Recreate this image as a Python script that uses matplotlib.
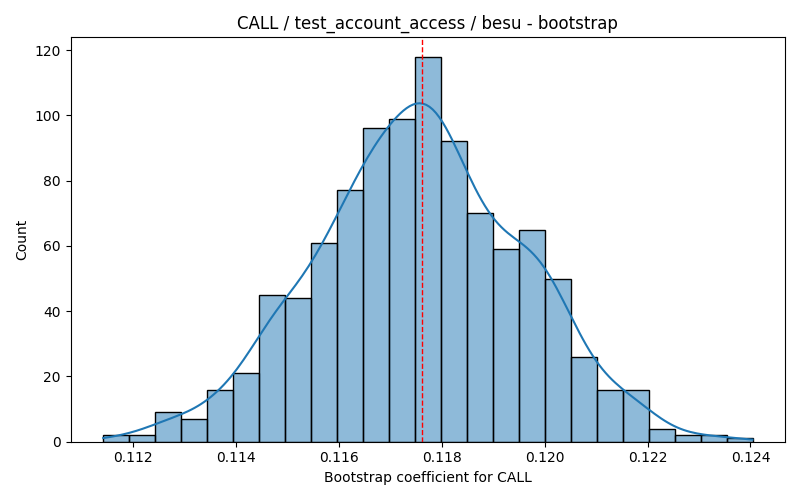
import matplotlib
matplotlib.use('Agg')
import matplotlib.pyplot as plt
import seaborn as sns
import numpy as np

# bin edges and counts
bin_lo = 0.11142
bin_hi = 0.12404
counts = [2, 2, 9, 7, 16, 21, 45, 44, 61, 77, 96, 99, 118,
          92, 70, 59, 65, 50, 26, 16, 16, 4, 2, 2, 1]
ref_value = 0.11762

title = 'CALL / test_account_access / besu - bootstrap'
xlabel = 'Bootstrap coefficient for CALL'

edges = np.linspace(bin_lo, bin_hi, len(counts) + 1)
centers = (edges[:-1] + edges[1:]) / 2
# one value per bootstrap sample, placed at its bin centre
samples = np.repeat(centers, counts)

fig, ax = plt.subplots(figsize=(8, 5), dpi=100)
sns.histplot(x=samples, bins=len(counts), binrange=(bin_lo, bin_hi),
             kde=True, kde_kws={'cut': 0.5}, ax=ax)
ax.axvline(ref_value, color='red', linestyle='--', linewidth=1)

ax.set_title(title)
ax.set_xlabel(xlabel)
ax.set_ylabel('Count')

fig.tight_layout()
fig.savefig('out.png', dpi=100)
